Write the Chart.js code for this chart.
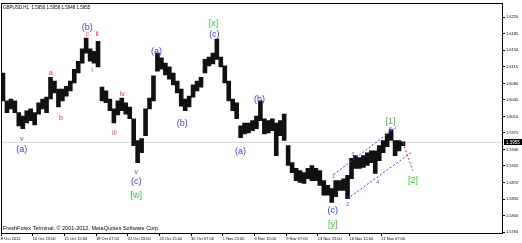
<!DOCTYPE html>
<html>
<head>
<meta charset="utf-8">
<script src="https://cdn.jsdelivr.net/npm/chart.js@4.4.0/dist/chart.umd.min.js"></script>
<style>
html,body{margin:0;padding:0;background:#fff;overflow:hidden}
#wrap{width:522px;height:243px;position:relative}
</style>
</head>
<body>
<div id="wrap"><canvas id="c" width="522" height="243"></canvas></div>
<script>
// GBPUSD H1: price range of each 8-hour block (high / low)
const barStep = 8;
const blockHigh = [
  1.6102,1.6043,1.6047,1.6043,1.6018,1.6011,1.6022,1.6026,1.6018,1.6039,
  1.6047,1.6051,1.6093,1.6085,1.6068,1.6068,1.6074,1.6085,1.6110,1.6127,
  1.6153,1.6176,1.6153,1.6148,1.6169,1.6072,1.6064,1.6047,1.6026,1.6043,
  1.6049,1.6039,1.6030,1.6005,1.5959,1.5963,1.6026,1.6049,1.6096,1.6144,
  1.6134,1.6123,1.6115,1.6102,1.6085,1.6068,1.6047,1.6053,1.6077,1.6085,
  1.6093,1.6131,1.6136,1.6144,1.6174,1.6136,1.6117,1.6085,1.6047,1.6039,
  1.5990,1.5996,1.5996,1.6001,1.6011,1.6043,1.6005,1.6001,1.6005,1.5996,
  1.6001,1.6015,1.5948,1.5912,1.5900,1.5895,1.5891,1.5900,1.5906,1.5900,
  1.5895,1.5874,1.5864,1.5857,1.5874,1.5874,1.5878,1.5885,1.5921,1.5927,
  1.5923,1.5927,1.5933,1.5937,1.5937,1.5948,1.5959,1.5973,1.5982,1.5959,
  1.5959,1.5956
];
const blockLow = [
  1.6043,1.6018,1.6026,1.6018,1.5990,1.5984,1.5996,1.6001,1.5992,1.6015,
  1.6026,1.6018,1.6047,1.6060,1.6030,1.6043,1.6053,1.6064,1.6081,1.6102,
  1.6123,1.6144,1.6127,1.6123,1.6115,1.6043,1.6039,1.6022,1.5996,1.6013,
  1.6022,1.6015,1.6005,1.5948,1.5912,1.5933,1.5969,1.6026,1.6043,1.6106,
  1.6110,1.6098,1.6089,1.6077,1.6060,1.6032,1.6022,1.6030,1.6051,1.6064,
  1.6072,1.6102,1.6117,1.6121,1.6131,1.6115,1.6081,1.6043,1.6022,1.6005,
  1.5965,1.5973,1.5975,1.5980,1.5984,1.6001,1.5973,1.5975,1.5980,1.5927,
  1.5969,1.5959,1.5906,1.5891,1.5874,1.5870,1.5868,1.5878,1.5874,1.5874,
  1.5864,1.5843,1.5843,1.5828,1.5840,1.5853,1.5853,1.5836,1.5878,1.5900,
  1.5900,1.5902,1.5906,1.5912,1.5889,1.5916,1.5933,1.5946,1.5959,1.5927,
  1.5937,1.5948
];

// time axis (bar numbers) and its labels
const timeTicks = [0,64,128,192,256,320,384,448,512,576,640,704,768];
const timeLabels = ['8 Oct 2012','10 Oct 23:00','15 Oct 15:00','18 Oct 07:00','22 Oct 23:00',
  '25 Oct 15:00','30 Oct 07:00','1 Nov 23:00','6 Nov 15:00','9 Nov 07:00','13 Nov 23:00',
  '16 Nov 15:00','21 Nov 07:00'];
const priceTicks = [1.5765,1.5800,1.5835,1.5870,1.5905,1.5940,1.5975,1.6010,1.6045,1.6080,1.6115,1.6150,1.6185,1.6220];
const lastPrice = 1.5955;
const quoteHeader = 'GBPUSD,H1  1.5950 1.5956 1.5948 1.5955';
const footerText = 'FreshForex Terminal, \u00a9 2001-2012, MetaQuotes Software Corp.';

// Elliott wave marks: [bar, price, text, style]
const waveLabels = [
  [42,1.5963,'v','minor'],[42,1.5940,'(a)','inter'],
  [101,1.6102,'a','minor'],[121,1.6007,'b','minor'],
  [174,1.6199,'(b)','inter'],[174,1.6184,'c','pink'],[194,1.6184,'ii','minor'],
  [184,1.6108,'i','minor'],[229,1.5975,'iii','pink'],[245,1.6058,'iv','minor'],
  [273,1.5893,'v','minor'],[273,1.5872,'(c)','inter'],[273,1.5843,'[w]','major'],
  [314,1.6148,'(a)','inter'],[366,1.5994,'(b)','inter'],
  [429,1.6207,'[x]','major'],[431,1.6184,'(c)','inter'],
  [484,1.5935,'(a)','inter'],[522,1.6045,'(b)','inter'],
  [670,1.5811,'(c)','inter'],[670,1.5781,'[y]','major'],
  [672,1.5883,'1','sub'],[700,1.5824,'2','sub'],[711,1.5929,'3','sub'],
  [761,1.5870,'4','sub'],[787,1.5982,'5','sub'],
  [787,1.5999,'[1]','major'],[832,1.5874,'[2]','major']
];
const channelUpper = [{x:672,y:1.5887},{x:802,y:1.5990}];
const channelLower = [{x:700,y:1.5836},{x:828,y:1.5933}];
const projection = [{x:812,y:1.5954},{x:832,y:1.5895}];

const labelStyles = {
  minor:{color:'#e8302c',font:'7px "Liberation Sans", Arial, sans-serif'},
  pink:{color:'#f0409a',font:'7px "Liberation Sans", Arial, sans-serif'},
  inter:{color:'#3a3ae8',font:'9px "Liberation Sans", Arial, sans-serif'},
  major:{color:'#3cc43c',font:'9px "Liberation Sans", Arial, sans-serif'},
  sub:{color:'#4a4af0',font:'5px "Liberation Sans", Arial, sans-serif'}
};

const overlay = {
  id:'overlay',
  afterDatasetsDraw(chart){
    const {ctx, chartArea:a, scales:{x, y}} = chart;
    ctx.save();
    ctx.textAlign = 'center';
    ctx.textBaseline = 'middle';
    waveLabels.forEach(([b,p,t,s])=>{
      ctx.fillStyle = labelStyles[s].color;
      ctx.font = labelStyles[s].font;
      ctx.fillText(t, x.getPixelForValue(b), y.getPixelForValue(p));
    });
    ctx.textAlign = 'left';
    ctx.fillStyle = '#000';
    ctx.font = '4.5px "Liberation Sans", Arial, sans-serif';
    ctx.fillText(quoteHeader, a.left + 2, a.top + 4);
    ctx.font = '5.5px "Liberation Sans", Arial, sans-serif';
    ctx.fillText(footerText, a.left + 2, a.bottom - 5);
    // frame
    ctx.strokeStyle = '#000';
    ctx.lineWidth = 1;
    ctx.strokeRect(Math.round(a.left)+0.5, Math.round(a.top)+0.5,
      Math.round(a.right-a.left)-1, Math.round(a.bottom-a.top));
    // last price tag on the price axis
    const py = Math.round(y.getPixelForValue(lastPrice));
    ctx.fillStyle = '#000';
    ctx.fillRect(a.right + 1, py - 3, 18, 6);
    ctx.fillStyle = '#fff';
    ctx.font = '4.5px "Liberation Sans", Arial, sans-serif';
    ctx.fillText(lastPrice.toFixed(4), a.right + 3, py + 0.5);
    ctx.restore();
  }
};

const tinyFont = {size:4, family:'"Liberation Sans", Arial, sans-serif'};

new Chart(document.getElementById('c'), {
  type:'bar',
  data:{
    datasets:[
      {
        type:'line', order:10,
        data:[{x:0,y:lastPrice},{x:1014,y:lastPrice}],
        borderColor:'#cfdcdc', borderWidth:1, pointRadius:0
      },
      {
        type:'bar', order:5,
        data:blockHigh.map((h,i)=>({x:i*barStep + barStep/2, y:[blockLow[i], h]})),
        backgroundColor:'#111', borderWidth:0,
        barPercentage:1, categoryPercentage:1
      },
      {
        type:'line', order:1, data:channelUpper,
        borderColor:'#3c3cf0', borderWidth:1, borderDash:[2,2], pointRadius:0
      },
      {
        type:'line', order:1, data:channelLower,
        borderColor:'#3c3cf0', borderWidth:1, borderDash:[2,2], pointRadius:0
      },
      {
        type:'line', order:1, data:projection,
        borderColor:'#f03030', borderWidth:1, borderDash:[2,2], pointRadius:0
      }
    ]
  },
  options:{
    responsive:false,
    devicePixelRatio:1,
    animation:false,
    layout:{padding:{left:1, top:2, right:0, bottom:0}},
    plugins:{legend:{display:false}, tooltip:{enabled:false}},
    scales:{
      x:{
        type:'linear', position:'bottom', min:0, max:1014, offset:false,
        grid:{display:true, drawOnChartArea:false, drawTicks:true, tickLength:3, color:'#000', offset:false},
        border:{display:false},
        ticks:{font:tinyFont, color:'#000', align:'start', padding:0, maxRotation:0, autoSkip:false,
          callback:(v)=>{const i = timeTicks.indexOf(v); return i >= 0 ? timeLabels[i] : '';}},
        afterBuildTicks:(axis)=>{axis.ticks = timeTicks.map(v=>({value:v}));},
        afterFit:(axis)=>{axis.height = 10;}
      },
      y:{
        type:'linear', position:'right', min:1.5763, max:1.62495,
        grid:{display:true, drawOnChartArea:false, drawTicks:true, tickLength:2, color:'#000'},
        border:{display:false},
        ticks:{font:tinyFont, color:'#000', padding:1, autoSkip:false,
          callback:(v)=>Number(v).toFixed(4)},
        afterBuildTicks:(axis)=>{axis.ticks = priceTicks.map(v=>({value:v}));},
        afterFit:(axis)=>{axis.width = 19;}
      }
    }
  },
  plugins:[overlay]
});
</script>
</body>
</html>
